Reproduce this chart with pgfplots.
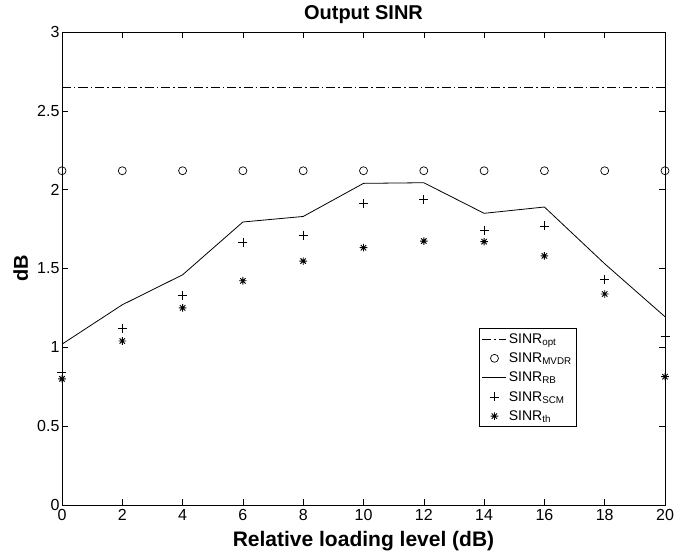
\documentclass[border=0pt]{standalone}
\usepackage{fontspec}
\setmainfont{Liberation Sans}
\usepackage{pgfplots}
\pgfplotsset{compat=1.18}

% matlab-like '*' marker: plus and cross together
\pgfdeclareplotmark{mstar}{%
  \pgfpathmoveto{\pgfqpoint{-\pgfplotmarksize}{0pt}}%
  \pgfpathlineto{\pgfqpoint{\pgfplotmarksize}{0pt}}%
  \pgfpathmoveto{\pgfqpoint{0pt}{-\pgfplotmarksize}}%
  \pgfpathlineto{\pgfqpoint{0pt}{\pgfplotmarksize}}%
  \pgfpathmoveto{\pgfqpoint{-.707\pgfplotmarksize}{-.707\pgfplotmarksize}}%
  \pgfpathlineto{\pgfqpoint{.707\pgfplotmarksize}{.707\pgfplotmarksize}}%
  \pgfpathmoveto{\pgfqpoint{-.707\pgfplotmarksize}{.707\pgfplotmarksize}}%
  \pgfpathlineto{\pgfqpoint{.707\pgfplotmarksize}{-.707\pgfplotmarksize}}%
  \pgfusepathqstroke}

\begin{document}
\begin{tikzpicture}
\begin{axis}[
    scale only axis,
    width=603pt, height=473pt,
    xmin=0, xmax=20, ymin=0, ymax=3,
    xtick={0,2,...,20},
    ytick={0,0.5,...,3},
    tick align=inside,
    major tick length=6pt,
    tick style={black, line width=0.6pt},
    axis line style={line width=0.8pt},
    /pgf/number format/assume math mode=true,
    tick label style={font=\fontsize{16}{18}\selectfont},
    xticklabel style={yshift=-1pt},
    yticklabel style={xshift=1pt},
    title={\bfseries Output SINR},
    title style={font=\fontsize{20}{22}\selectfont, at={(axis description cs:0.5,1)}, anchor=base, yshift=6pt},
    xlabel={\bfseries Relative loading level (dB)},
    ylabel={\bfseries dB},
    xlabel style={font=\fontsize{21}{23}\selectfont, at={(axis description cs:0.5,0)}, anchor=base, yshift=-41pt},
    ylabel style={font=\fontsize{20}{22}\selectfont, at={(axis description cs:0,0.5)}, anchor=base, yshift=34pt},
    legend style={at={(0.854,0.374)}, anchor=north east, draw=black,
        font=\fontsize{14}{14}\selectfont, row sep=4pt, inner sep=3pt,
        line width=0.6pt},
    legend cell align=left,
    legend image code/.code={\draw[mark repeat=2,mark phase=2,#1]
        plot coordinates {(0pt,0pt) (12pt,0pt) (24pt,0pt)};},
]
\addplot[black, line width=0.6pt, dash pattern=on 9pt off 3pt on 1.5pt off 3pt]
    coordinates {(0,2.65) (20,2.65)};
\addlegendentry{SINR\textsubscript{opt}}
\addplot[only marks, mark=o, mark size=4pt, black, mark options={line width=0.7pt}]
    coordinates {(0,2.12) (2,2.12) (4,2.12) (6,2.12) (8,2.12) (10,2.12) (12,2.12) (14,2.12) (16,2.12) (18,2.12) (20,2.12)};
\addlegendentry{SINR\textsubscript{MVDR}}
\addplot[black, line width=0.8pt]
    coordinates {(0,1.02) (2,1.27) (4,1.46) (6,1.795) (8,1.83) (10,2.04) (12,2.044) (14,1.85) (16,1.89) (18,1.53) (20,1.194)};
\addlegendentry{SINR\textsubscript{RB}}
\addplot[only marks, mark=+, mark size=4.5pt, black, mark options={line width=0.7pt}]
    coordinates {(0,0.84) (2,1.12) (4,1.33) (6,1.663) (8,1.712) (10,1.913) (12,1.938) (14,1.74) (16,1.77) (18,1.431) (20,1.07)};
\addlegendentry{SINR\textsubscript{SCM}}
\addplot[only marks, mark=mstar, mark size=3.8pt, black, mark options={line width=0.9pt}]
    coordinates {(0,0.80) (2,1.04) (4,1.25) (6,1.422) (8,1.547) (10,1.632) (12,1.674) (14,1.67) (16,1.58) (18,1.338) (20,0.814)};
\addlegendentry{SINR\textsubscript{th}}
\end{axis}
\pgfresetboundingbox
\path[use as bounding box] ([shift={(-62pt,-49pt)}]current axis.south west)
    rectangle ([shift={(20pt,32pt)}]current axis.north east);
\end{tikzpicture}
\end{document}
